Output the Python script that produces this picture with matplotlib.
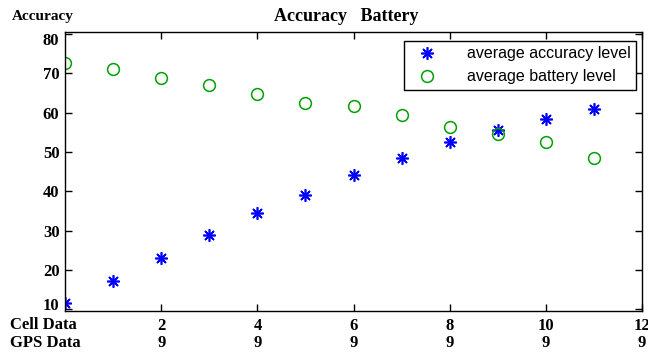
import matplotlib.pyplot as plt
import matplotlib.transforms as mtransforms
import numpy as np

# data
steps = [0, 1, 2, 3, 4, 5, 6, 7, 8, 9, 10, 11]
accuracy = [11.6, 17.2, 23.1, 28.9, 34.5, 39.1, 44.0, 48.5, 52.4, 55.7, 58.5, 60.8]
battery = [72.7, 71.0, 68.7, 66.9, 64.8, 62.5, 61.8, 59.5, 56.4, 54.6, 52.6, 48.5]
cell_ticks = [2, 4, 6, 8, 10, 12]
gps_ticks = [9, 9, 9, 9, 9, 9]
y_ticks = [10, 20, 30, 40, 50, 60, 70, 80]

serif = ['Liberation Serif', 'DejaVu Serif']
sans = ['Liberation Sans', 'DejaVu Sans']

fig = plt.figure(figsize=(6.48, 3.52), dpi=100)
ax = fig.add_axes([0.1003, 0.1173, 0.8907, 0.7917])

ax.plot(steps, accuracy, linestyle='none', marker=(8, 2, 0), markersize=9,
        markeredgecolor='#0000ff', markeredgewidth=1.2, color='#0000ff',
        label='average accuracy level')
ax.plot(steps, battery, linestyle='none', marker='o', markersize=8.5,
        markerfacecolor='none', markeredgecolor='#00a000', markeredgewidth=1.1,
        label='average battery level')

ax.set_xlim(0, 12)
ax.set_ylim(9.6, 80.5)
ax.set_xticks(cell_ticks)
ax.set_xticklabels(['%d\n%d' % (c, g) for c, g in zip(cell_ticks, gps_ticks)],
                   family=serif, fontweight='bold', fontsize=12, linespacing=1.15)
ax.set_yticks(y_ticks)
ax.set_yticklabels([str(v) for v in y_ticks], family=serif, fontweight='bold', fontsize=12)
ax.tick_params(direction='in', top=True, right=True, length=5, width=1)
ax.tick_params(axis='x', pad=5)
ax.tick_params(axis='y', pad=4)
for s in ax.spines.values():
    s.set_linewidth(1.0)

# end labels sit a little inside the axis in the original
ylabs = ax.get_yticklabels()
ylabs[0].set_transform(ylabs[0].get_transform() +
                       mtransforms.ScaledTranslation(0, 5 / 100, fig.dpi_scale_trans))
ylabs[-1].set_transform(ylabs[-1].get_transform() +
                        mtransforms.ScaledTranslation(0, -5 / 100, fig.dpi_scale_trans))

fig.text(0.015, 0.051, 'Cell Data\nGPS Data', family=serif, fontweight='bold',
         fontsize=12, ha='left', va='center', linespacing=1.15)
fig.text(0.534, 0.953, 'Accuracy   Battery', family=serif, fontweight='bold',
         fontsize=13, ha='center', va='center')
fig.text(0.018, 0.953, 'Accuracy', family=serif, fontweight='bold',
         fontsize=11, ha='left', va='center')

leg = ax.legend(loc='upper right', prop={'family': sans, 'size': 11.5},
                fancybox=False, edgecolor='black', framealpha=1,
                handletextpad=1.4, borderpad=0.35, handlelength=2.2,
                bbox_to_anchor=(1.004, 0.997))
leg.get_frame().set_linewidth(1.0)

plt.savefig('out.png', dpi=100)
